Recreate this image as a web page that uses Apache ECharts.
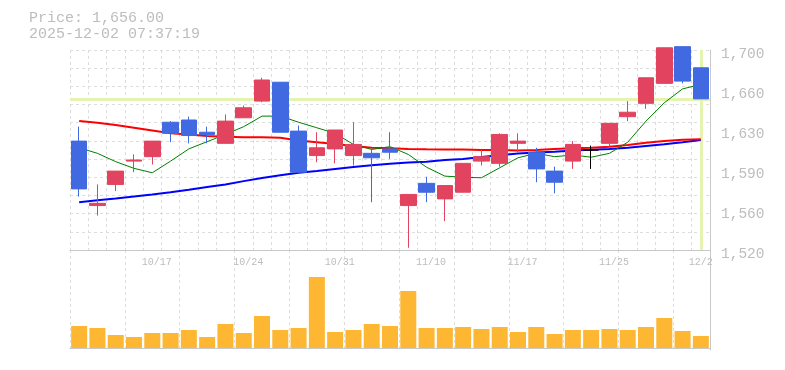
<!DOCTYPE html>
<html><head><meta charset="utf-8">
<script src="https://cdn.jsdelivr.net/npm/echarts@6/dist/echarts.min.js"></script>
<style>html,body{margin:0;padding:0;background:#fff}#c{width:785px;height:370px}</style>
</head><body><div id="c"></div>
<script>
const dates = ['10/10','10/14','10/15','10/16','10/17','10/20','10/21','10/22','10/23','10/24',
  '10/27','10/28','10/29','10/30','10/31','11/4','11/5','11/6','11/7','11/10',
  '11/11','11/12','11/13','11/14','11/17','11/18','11/19','11/20','11/21','11/25',
  '11/26','11/27','11/28','12/1','12/2'];
// [open, close, low, high]
const candles = [
  [1618,1575,1568,1631],[1560,1562,1551,1579],[1579,1591,1573,1591],[1600,1601,1590,1606],[1604,1618,1597,1618],
  [1635,1625,1617,1636],[1637,1623,1616,1640],[1626,1624,1616,1631],[1616,1636,1616,1642],[1639,1648,1639,1650],
  [1654,1673,1653,1675],[1671,1626,1626,1671],[1627,1590,1590,1632],[1605,1612,1599,1626],[1611,1628,1598,1628],
  [1605,1615,1596,1635],[1607,1603,1563,1611],[1611,1608,1602,1626],[1560,1570,1522,1570],[1580,1572,1563,1586],
  [1566,1578,1546,1578],[1572,1598,1572,1598],[1600,1604,1596,1610],[1598,1624,1595,1625],[1616,1618,1608,1625],
  [1608,1593,1581,1612],[1591,1581,1571,1595],[1600,1615,1593,1618],[1610,1610,1593,1614],[1616,1634,1613,1634],
  [1640,1644,1636,1654],[1652,1675,1647,1675],[1670,1702,1670,1702],[1703,1672,1670,1703],[1684,1656,1656,1684]
];
const maShort = [1612,1607,1599.5,1593.5,1589.5,1600,1611,1617.5,1624,1631,
  1640.5,1640.5,1635,1630,1625,1615,1610.5,1613,1606,1594.5,
  1586.5,1585.5,1585,1594,1603,1607,1604,1605.5,1603.5,1607,
  1617,1636,1652.5,1665,1669];
const maMid = [1636,1634.5,1632.5,1630,1627.5,1625,1624,1622.5,1622,1621.5,
  1621.5,1621,1618.5,1617,1615.5,1613.5,1612,1611.5,1611,1610.7,
  1610.5,1610.5,1610,1610,1609.5,1610,1611,1611.5,1612,1613,
  1614.5,1616.5,1618,1619.3,1619.6];
const maLong = [1563,1564.7,1566.3,1568.2,1570,1572,1574.3,1576.8,1579,1582,
  1584.8,1587.3,1589.6,1591.1,1593,1594.7,1596.2,1597.7,1598.7,1599.5,
  1601,1602,1603.6,1605.3,1606.8,1607.8,1608.4,1609.5,1610.2,1611,
  1612.1,1613.6,1615.1,1616.9,1619];
const volumes = [22,20,13,11,15,15,18,11,24,15,32,18,20,71,16,18,24,22,57,20,
  20,21,19,21,16,21,14,18,18,19,18,21,30,17,12];
const priceTickLabels = ['1,520','1,560','1,590','1,630','1,660','1,700'];
const xTickLabels = ['10/17','10/24','10/31','11/10','11/17','11/25','12/2'];
const lastPrice = 1656;
const titleLines = ['Price: 1,656.00','2025-12-02 07:37:19'];

const mono = '"Liberation Mono", "DejaVu Sans Mono", monospace';
const txt = '#bdbdbd';
const gridLine = {show:true, lineStyle:{color:'#dddddd', type:[3,3], width:1}};
const border = {show:true, lineStyle:{color:'#c8c8c8', width:1}};

const chart = echarts.init(document.getElementById('c'), null, {renderer:'canvas'});
chart.setOption({
  animation:false,
  backgroundColor:'#fff',
  title:{text:titleLines.join('\n'), left:29, top:10, padding:0,
    textStyle:{fontFamily:mono, fontSize:15, fontWeight:'normal', color:txt, lineHeight:16}},
  grid:[
    {left:70, top:50, width:640, height:200},
    {left:70, top:250, width:640, height:100}
  ],
  xAxis:[
    {type:'category', gridIndex:0, data:dates, boundaryGap:true,
      axisLine:border, axisTick:{show:false}, splitLine:gridLine,
      axisLabel:{show:true, interval:0, margin:7, fontFamily:mono, fontSize:10, color:txt,
        formatter:v => xTickLabels.includes(v) ? (v.length===5 ? '{a|'+v+'}' : '{b|'+v+'}') : '',
        rich:{a:{padding:[0,0,0,9], fontFamily:mono, fontSize:10, color:txt},
              b:{padding:[0,0,0,0], fontFamily:mono, fontSize:10, color:txt}}}},
    {type:'category', gridIndex:1, data:dates, boundaryGap:true,
      axisLine:border, axisTick:{show:false}, axisLabel:{show:false}, splitLine:gridLine}
  ],
  yAxis:[
    {type:'value', gridIndex:0, min:1520, max:1700, show:false, scale:true},
    {type:'category', gridIndex:0, position:'right', data:priceTickLabels, boundaryGap:false,
      axisLine:border, axisTick:{show:false}, splitLine:{show:false},
      axisLabel:{margin:11, fontFamily:mono, fontSize:14.5, color:txt,
        formatter:v => '{p|' + v + '}',
        rich:{p:{padding:[8,0,0,0], fontFamily:mono, fontSize:14.5, color:txt}}}},
    {type:'value', gridIndex:0, position:'right', min:0, max:11, interval:1,
      axisLine:{show:false}, axisTick:{show:false}, axisLabel:{show:false}, splitLine:gridLine},
    {type:'value', gridIndex:1, position:'right', min:-2, max:98,
      axisLine:border, axisTick:{show:false}, axisLabel:{show:false}, splitLine:{show:false}}
  ],
  series:[
    {type:'line', xAxisIndex:0, yAxisIndex:0, data:[], silent:true,
      markLine:{z:1, silent:true, symbol:['none','none'], label:{show:false},
        lineStyle:{color:'#e4f4b0', width:3, type:'solid', opacity:1},
        emphasis:{disabled:true},
        data:[{yAxis:lastPrice},{xAxis:dates[dates.length-1]}]}},
    {type:'line', xAxisIndex:0, yAxisIndex:0, data:maLong, symbol:'none', z:2, silent:true,
      lineStyle:{color:'#0000ff', width:2}},
    {type:'line', xAxisIndex:0, yAxisIndex:0, data:maMid, symbol:'none', z:2, silent:true,
      lineStyle:{color:'#ff0000', width:2}},
    {type:'line', xAxisIndex:0, yAxisIndex:0, data:maShort, symbol:'none', z:2, silent:true,
      lineStyle:{color:'#008000', width:1}},
    {type:'candlestick', xAxisIndex:0, yAxisIndex:0, data:candles, barWidth:16, z:3, clip:false,
      itemStyle:{color:'#e2435f', color0:'#4169e1', borderColor:'#e2435f', borderColor0:'#4169e1',
        borderColorDoji:'#000000', borderWidth:1}},
    {type:'bar', xAxisIndex:1, yAxisIndex:3, data:volumes, barWidth:16,
      itemStyle:{color:'#fdb733'}}
  ]
});
</script></body></html>
